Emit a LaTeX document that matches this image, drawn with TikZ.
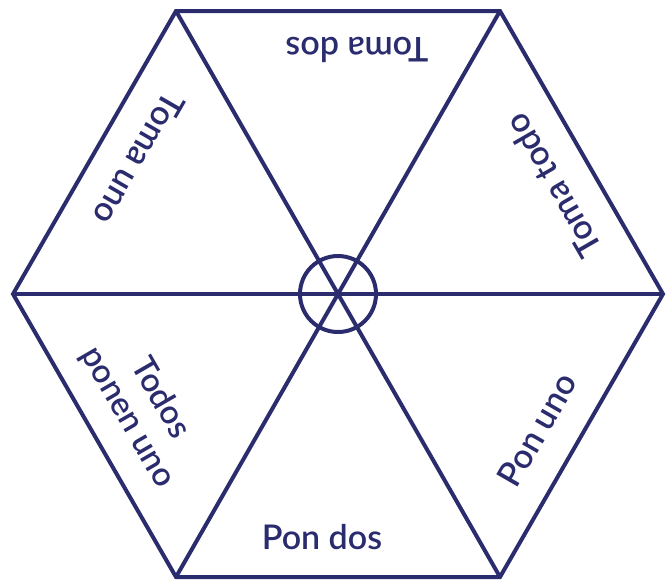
\documentclass[tikz,border=0pt]{standalone}
\usepackage{fontspec}
\setmainfont{Lato}[UprightFont={* Semibold}]
\definecolor{navy}{HTML}{2B2C6E}
\begin{document}
\begin{tikzpicture}[x=1pt,y=-1pt,
  edge/.style={draw=navy,line width=4pt,line join=miter},
  lab/.style={text=navy,font=\fontsize{34}{38}\selectfont,inner sep=0pt,align=center}]
\useasboundingbox (0,0) rectangle (666,579);
\coordinate (c) at (338,294);
\coordinate (v1) at (176,11);
\coordinate (v2) at (500,11);
\coordinate (v3) at (663,294);
\coordinate (v4) at (500,577);
\coordinate (v5) at (176,577);
\coordinate (v6) at (13,294);
\draw[edge] (v1) -- (v2) -- (v3) -- (v4) -- (v5) -- (v6) -- cycle;
\draw[edge] (v1) -- (v4);
\draw[edge] (v2) -- (v5);
\draw[edge] (v3) -- (v6);
\draw[edge] (c) circle (38);
\node[lab,rotate=180] (t1) at (357,50) {Toma dos};
\node[lab,rotate=120] (t2) at (553,186) {Toma todo};
\node[lab,rotate=60] (t3) at (537,430) {Pon uno};
\node[lab] (t4) at (322,537) {Pon dos};
\node[lab,rotate=-60,font=\fontsize{33}{38}\selectfont] (t5) at (144,408) {Todos\\ponen uno};
\node[lab,rotate=240] (t6) at (139,159) {Toma uno};
\end{tikzpicture}
\end{document}
